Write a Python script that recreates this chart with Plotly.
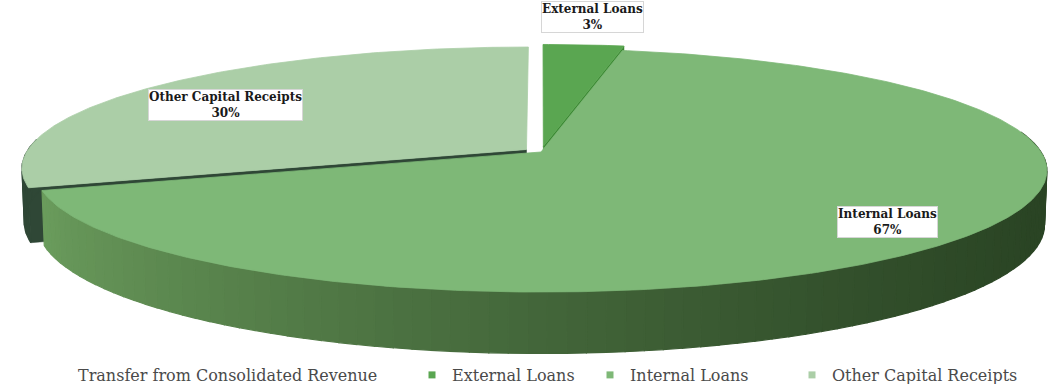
import numpy as np
import plotly.graph_objects as go

# ---- data ---------------------------------------------------------------
categories = [
    "Transfer from Consolidated Revenue",
    "External Loans",
    "Internal Loans",
    "Other Capital Receipts",
]
shares = [0, 3, 67, 30]                     # percent of capital receipts
top_colors = ["rgba(0,0,0,0)", "#5aa651", "#7eb877", "#abcea7"]
edge_colors = ["rgba(0,0,0,0)", "#3c8a34", "#4f7a44", "#2f4736"]
explode = [0.0, 0.05, 0.0, 0.036]           # radial pull-out of each wedge

# label boxes (pixel centres on the 1055x384 canvas)
label_pos = {
    "External Loans": (592, 17),
    "Internal Loans": (887, 222),
    "Other Capital Receipts": (225, 105),
}

# ---- 3-D pie projection -------------------------------------------------
W, H = 1055, 384
PX, PY = 500.0, 487.5  # pixels per unit radius (horizontal, vertical)
CX, CY = 541.0, 152.0  # pie centre on the canvas
ELEV = np.radians(14.1)
DIST = 6.38
THICK = 0.112
S, K = np.sin(ELEV), np.cos(ELEV)


def project(theta_deg, r, height, offset):
    th = np.radians(np.asarray(theta_deg, dtype=float))
    X = offset[0] + r * np.sin(th)
    Z = offset[1] + r * np.cos(th)
    depth = DIST + Z * K - height * S
    up = height * K + Z * S
    return X * DIST / depth, up * DIST / depth


def arc(a0, a1, n=None):
    if n is None:
        n = max(int(abs(a1 - a0) * 1.5), 2)
    return np.linspace(a0, a1, n)


fig = go.Figure()


def poly(xs, ys, color, width=1.0, line_color=None):
    fig.add_trace(go.Scatter(
        x=np.append(xs, xs[0]), y=np.append(ys, ys[0]),
        mode="lines", fill="toself", fillcolor=color,
        line=dict(color=line_color or color, width=width),
        hoverinfo="skip", showlegend=False,
    ))


cum = np.concatenate([[0], np.cumsum(shares)])
starts = 360.0 * cum[:-1] / 100.0
ends = 360.0 * cum[1:] / 100.0

wedges = []
for i, cat in enumerate(categories):
    if shares[i] <= 0:
        wedges.append(None)
        continue
    mid = np.radians((starts[i] + ends[i]) / 2)
    off = (explode[i] * np.sin(mid), explode[i] * np.cos(mid))
    wedges.append((starts[i], ends[i], off))


def cut_face(angle, off, color):
    tx, ty = project([angle, angle], [0, 1], 0.0, off)
    bx, by = project([angle, angle], [1, 0], -THICK, off)
    poly(np.concatenate([tx, bx]), np.concatenate([ty, by]), color, 0.5)


def top_face(a0, a1, off, color):
    ang = arc(a0, a1)
    ax, ay = project(ang, 1.0, 0.0, off)
    cx, cy = project(0.0, 0.0, 0.0, off)
    poly(np.concatenate([[cx], ax]), np.concatenate([[cy], ay]), color, 0.8)


def side_band(a0, a1, off, col_fn, nseg=90):
    edges = np.linspace(a0, a1, nseg + 1)
    for j in range(nseg):
        ang = np.linspace(edges[j], edges[j + 1], 4)
        tx, ty = project(ang, 1.0, 0.0, off)
        bx, by = project(ang[::-1], 1.0, -THICK, off)
        poly(np.concatenate([tx, bx]), np.concatenate([ty, by]),
             col_fn(tx.mean()), 1.2)


def side_shade(xu):
    t = np.clip((xu * PX + CX - 40) / (1045 - 40), 0, 1) ** 0.7
    c0, c1 = np.array([108, 158, 94]), np.array([42, 68, 36])
    c = (c0 + (c1 - c0) * t).astype(int)
    return f"rgb({c[0]},{c[1]},{c[2]})"


# Other Capital Receipts (back-left wedge)
a0, a1, off = wedges[3]
cut_face(a0, off, edge_colors[3])
side_band(a0, 275, off, lambda x: edge_colors[3], nseg=6)
top_face(a0, a1, off, top_colors[3])

# External Loans (back wedge)
a0, a1, off = wedges[1]
cut_face(a1, off, edge_colors[1])
top_face(a0, a1, off, top_colors[1])

# Internal Loans (front wedge)
a0, a1, off = wedges[2]
side_band(max(a0, 80), a1, off, side_shade)
top_face(a0, a1, off, top_colors[2])

# ---- legend entries -----------------------------------------------------
legend_text_x = [78, 452, 630, 832]
for i, cat in enumerate(categories):
    key = "legend" if i == 0 else f"legend{i + 1}"
    fig.add_trace(go.Scatter(
        x=[None], y=[None], mode="markers", name=cat,
        marker=dict(symbol="square", size=7, color=top_colors[i]),
        legend=key, showlegend=True, hoverinfo="skip",
    ))

legend_font = dict(family="DejaVu Serif", size=16, color="#4a4a4a")
legend_layouts = {}
for i, tx in enumerate(legend_text_x):
    key = "legend" if i == 0 else f"legend{i + 1}"
    legend_layouts[key] = dict(
        x=(tx - 40) / W, xanchor="left", y=1 - 375 / H, yanchor="middle",
        orientation="h", font=legend_font, bgcolor="rgba(0,0,0,0)",
        borderwidth=0, itemclick=False, itemdoubleclick=False,
    )

# ---- slice labels -------------------------------------------------------
annotations = []
for cat, val in zip(categories, shares):
    if cat not in label_pos:
        continue
    px_, py_ = label_pos[cat]
    annotations.append(dict(
        x=px_ / W, y=1 - py_ / H, xref="paper", yref="paper",
        xanchor="center", yanchor="middle",
        text=f"<b>{cat}</b><br><b>{val}%</b>", showarrow=False,
        font=dict(family="DejaVu Serif", size=12, color="#1a1a1a"),
        bgcolor="#ffffff", bordercolor="#d6d6d6", borderwidth=1,
        borderpad=0, align="center",
    ))

fig.update_layout(
    width=W, height=H,
    margin=dict(l=0, r=0, t=0, b=0, autoexpand=False),
    paper_bgcolor="#ffffff", plot_bgcolor="#ffffff",
    xaxis=dict(range=[(0 - CX) / PX, (W - CX) / PX], visible=False,
               fixedrange=True),
    yaxis=dict(range=[-(H - CY) / PY, CY / PY], visible=False,
               fixedrange=True),
    annotations=annotations,
    **legend_layouts,
)

fig.write_html("out.html")
